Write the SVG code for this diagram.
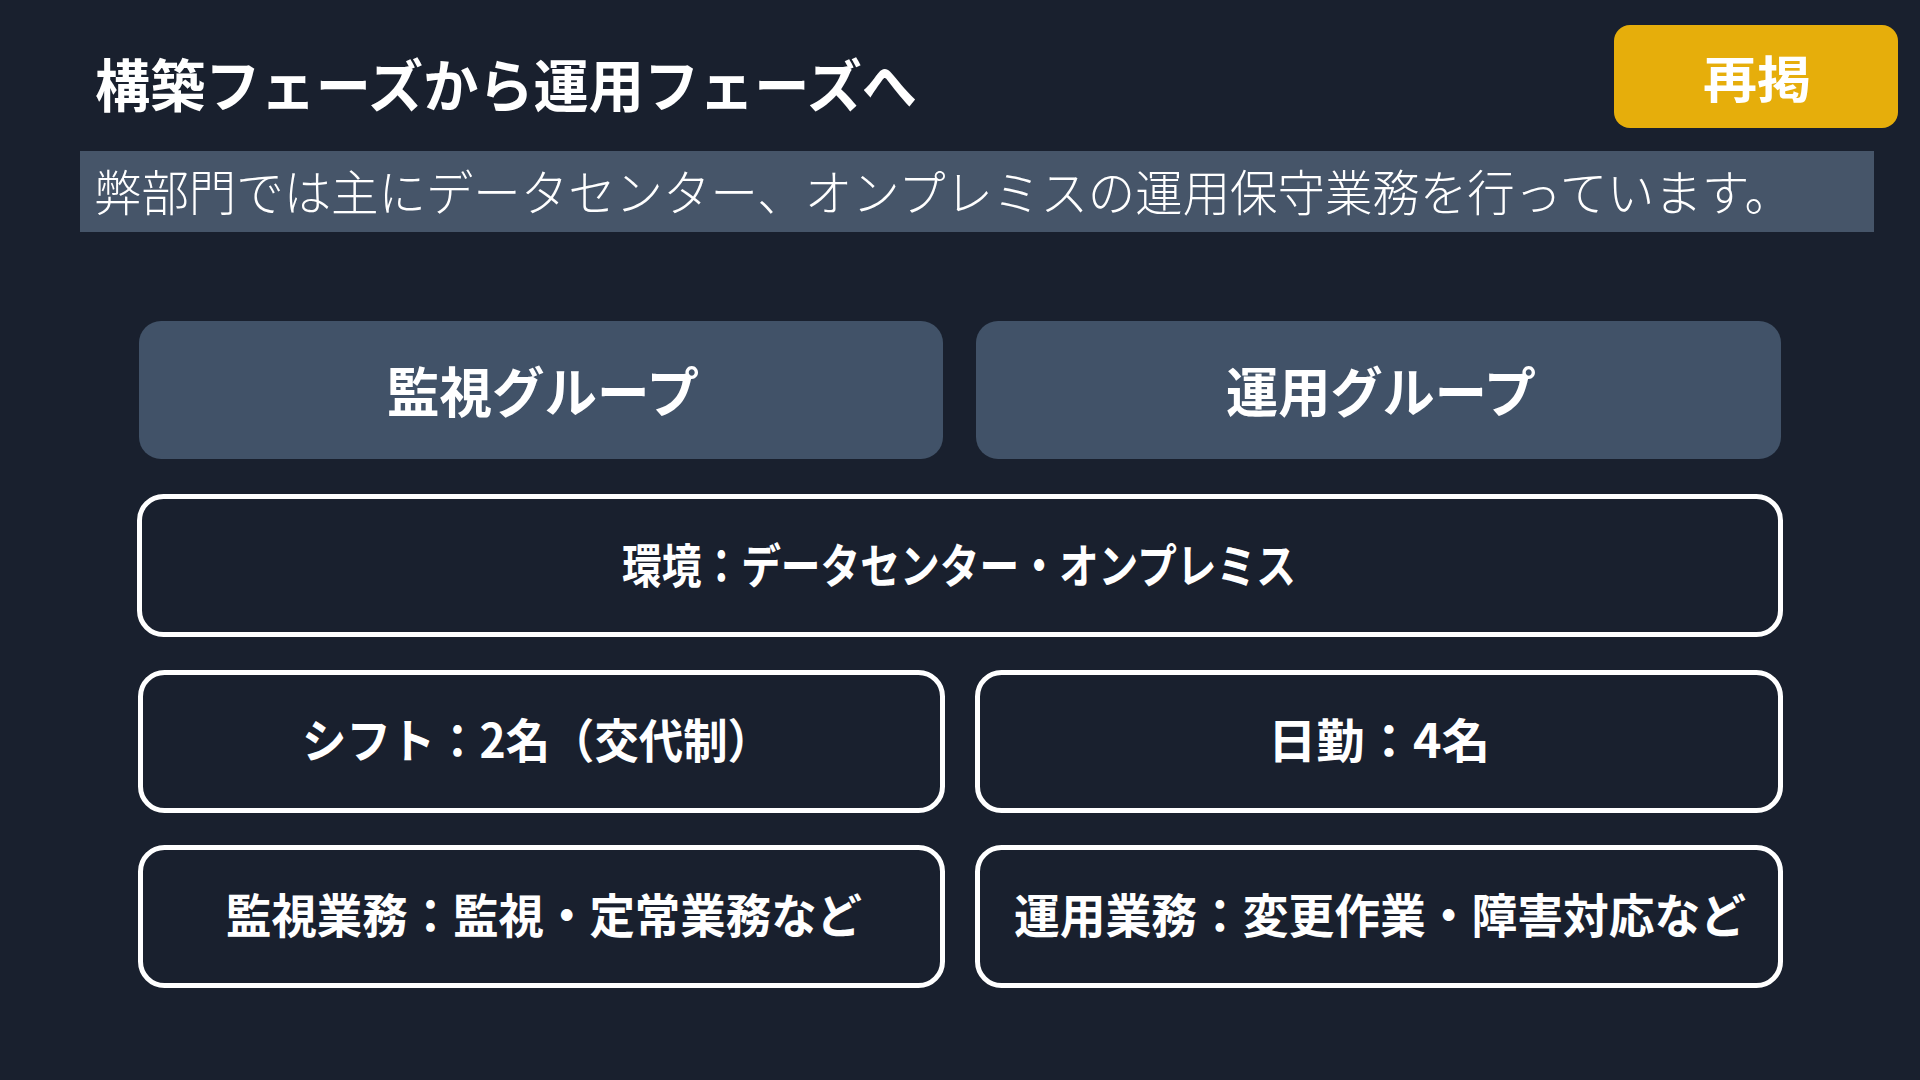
<svg xmlns="http://www.w3.org/2000/svg" width="1920" height="1080" viewBox="0 0 1920 1080">
<style>
.t{font-family:"Noto Sans CJK JP","Noto Sans",sans-serif;fill:#ffffff}
.b{font-weight:700}
.l{font-weight:300}
.hdr{fill:#415268}
.box{fill:#19202e;stroke:#ffffff;stroke-width:5}
</style>
<rect x="0" y="0" width="1920" height="1080" fill="#19202e"/>
<g id="title">
<text class="t b" x="95" y="107" font-size="57" textLength="822" lengthAdjust="spacingAndGlyphs">構築フェーズから運用フェーズへ</text>
</g>
<g id="badge">
<rect x="1614" y="25" width="284" height="103" rx="16" fill="#e6ae0b"/>
<text class="t b" x="1757" y="98" font-size="50" text-anchor="middle" textLength="108" lengthAdjust="spacingAndGlyphs">再掲</text>
</g>
<g id="subtitle">
<rect x="80" y="151" width="1794" height="81" fill="#465569"/>
<text class="t l" x="94" y="211" font-size="49" textLength="1698" lengthAdjust="spacingAndGlyphs">弊部門では主にデータセンター、オンプレミスの運用保守業務を行っています。</text>
</g>
<g id="group-monitor">
<rect class="hdr" x="139" y="321" width="804" height="138" rx="22"/>
<text class="t b" x="543" y="413" font-size="54" text-anchor="middle" textLength="312" lengthAdjust="spacingAndGlyphs">監視グループ</text>
</g>
<g id="group-ops">
<rect class="hdr" x="976" y="321" width="805" height="138" rx="22"/>
<text class="t b" x="1381" y="413" font-size="54" text-anchor="middle" textLength="310" lengthAdjust="spacingAndGlyphs">運用グループ</text>
</g>
<g id="env">
<rect class="box" x="139.5" y="496.5" width="1641" height="138" rx="24"/>
<text class="t b" x="959" y="583" font-size="47" text-anchor="middle" textLength="674" lengthAdjust="spacingAndGlyphs">環境：データセンター・オンプレミス</text>
</g>
<g id="shift">
<rect class="box" x="140.5" y="672.5" width="802" height="138" rx="24"/>
<text class="t b" x="537" y="758" font-size="47" text-anchor="middle" textLength="470" lengthAdjust="spacingAndGlyphs">シフト：2名（交代制）</text>
</g>
<g id="dayshift">
<rect class="box" x="977.5" y="672.5" width="803" height="138" rx="24"/>
<text class="t b" x="1379" y="758" font-size="47" text-anchor="middle" textLength="222" lengthAdjust="spacingAndGlyphs">日勤：4名</text>
</g>
<g id="monitor-work">
<rect class="box" x="140.5" y="847.5" width="802" height="138" rx="24"/>
<text class="t b" x="544" y="933" font-size="47" text-anchor="middle" textLength="636" lengthAdjust="spacingAndGlyphs">監視業務：監視・定常業務など</text>
</g>
<g id="ops-work">
<rect class="box" x="977.5" y="847.5" width="803" height="138" rx="24"/>
<text class="t b" x="1380" y="933" font-size="47" text-anchor="middle" textLength="732" lengthAdjust="spacingAndGlyphs">運用業務：変更作業・障害対応など</text>
</g>
<g id="connectors"></g>
</svg>
